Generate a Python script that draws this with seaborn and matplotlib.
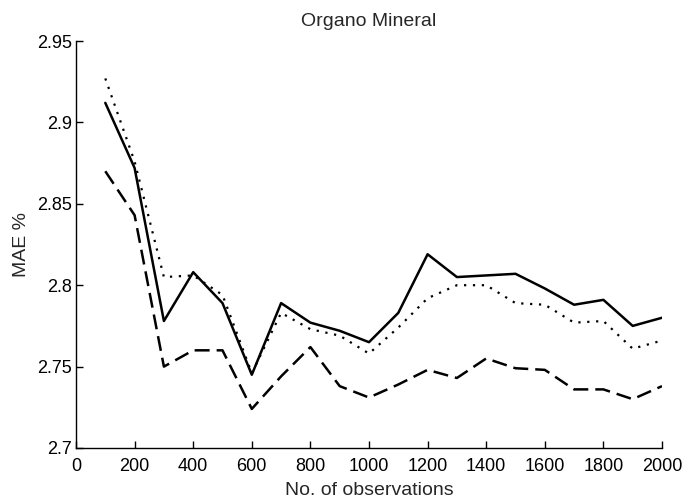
import matplotlib
matplotlib.use("Agg")
import matplotlib.pyplot as plt
import seaborn as sns
import pandas as pd

obs = [100, 200, 300, 400, 500, 600, 700, 800, 900, 1000,
       1100, 1200, 1300, 1400, 1500, 1600, 1700, 1800, 1900, 2000]
solid = [2.912, 2.872, 2.778, 2.808, 2.789, 2.745, 2.789, 2.777, 2.772, 2.765,
         2.783, 2.819, 2.805, 2.806, 2.807, 2.798, 2.788, 2.791, 2.775, 2.780]
dotted = [2.927, 2.876, 2.805, 2.806, 2.794, 2.746, 2.783, 2.773, 2.769, 2.758,
          2.774, 2.792, 2.800, 2.800, 2.789, 2.788, 2.777, 2.778, 2.761, 2.766]
dashed = [2.870, 2.843, 2.750, 2.760, 2.760, 2.724, 2.744, 2.762, 2.738, 2.731,
          2.739, 2.748, 2.743, 2.755, 2.749, 2.748, 2.736, 2.736, 2.730, 2.738]

xticks = [0, 200, 400, 600, 800, 1000, 1200, 1400, 1600, 1800, 2000]
yticks = [2.7, 2.75, 2.8, 2.85, 2.9, 2.95]
ytick_labels = ["2.7", "2.75", "2.8", "2.85", "2.9", "2.95"]

sns.set_style("ticks")
plt.rcParams['font.family'] = ['Liberation Sans', 'DejaVu Sans']
plt.rcParams['xtick.direction'] = 'in'
plt.rcParams['ytick.direction'] = 'in'

fig = plt.figure(figsize=(6.83, 5.03), dpi=100)
ax = fig.add_axes([76/683, 1 - 448/503, (662 - 76)/683, (448 - 41)/503])

df = pd.DataFrame({"obs": obs, "solid": solid, "dotted": dotted, "dashed": dashed})
sns.lineplot(data=df, x="obs", y="solid", ax=ax, color="black", lw=1.8, linestyle="-")
sns.lineplot(data=df, x="obs", y="dotted", ax=ax, color="black", lw=1.6, linestyle=(0, (1, 3)))
sns.lineplot(data=df, x="obs", y="dashed", ax=ax, color="black", lw=1.8, linestyle=(0, (6, 2.8)))

ax.set_xlim(0, 2000)
ax.set_ylim(2.7, 2.95)
ax.set_xticks(xticks)
ax.set_xticklabels([str(t) for t in xticks])
ax.set_yticks(yticks)
ax.set_yticklabels(ytick_labels)
ax.tick_params(labelsize=13, length=5, width=1, colors="black")
ax.tick_params(axis="x", pad=7)
ax.tick_params(axis="y", pad=3)
for s in ["top", "right"]:
    ax.spines[s].set_visible(False)
for s in ["left", "bottom"]:
    ax.spines[s].set_linewidth(1)
    ax.spines[s].set_color("black")

ax.set_title("Organo Mineral", fontsize=14, pad=11)
ax.set_xlabel("No. of observations", fontsize=14, labelpad=5)
ax.set_ylabel("MAE %", fontsize=14, labelpad=5)

fig.savefig("out.png", dpi=100)
